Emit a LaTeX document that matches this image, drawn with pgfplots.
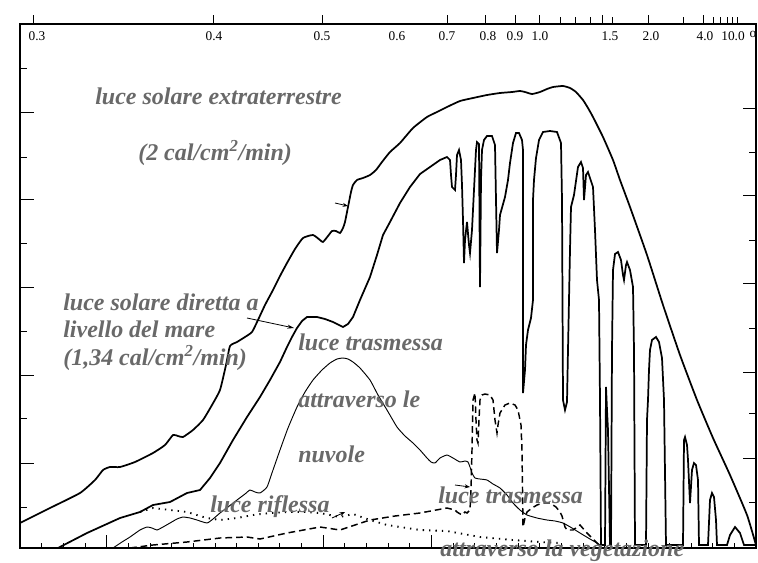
\documentclass[border=0pt]{standalone}
\usepackage{fontspec}
\setmainfont{Liberation Serif}
\usepackage{pgfplots}
\pgfplotsset{compat=1.18}
\usetikzlibrary{arrows.meta}
\definecolor{anno}{RGB}{105,105,105}

\pgfplotstableread{
x y
20 523
50 508
80 493
95 480
103 470
110 467
120 467
135 462
153 453
165 445
173 435
178 436
183 437
193 430
203 420
212 405
220 390
226 365
230 346
237 342
245 337
252 332
258 320
265 305
273 290
280 276
287 263
295 249
303 238
313 235
320 240
323 242
328 236
332 231
336 231
340 233
343 228
345 222
348 207
351 192
353 185
357 180
363 178
370 175
376 170
382 162
390 152
400 143
413 128
427 117
437 112
447 107
460 101
473 98
487 95
500 93
512 92
520 91
525 92
532 94
540 92
547 89
553 87
563 86
570 88
576 92
583 100
588 108
593 117
603 137
613 160
620 180
630 207
647 255
663 305
680 355
697 400
713 438
730 475
747 515
756 545
}\extra

\pgfplotstableread{
x y
58 548
87 533
120 518
140 512
153 505
170 502
187 493
200 490
210 478
220 463
233 440
247 417
260 397
270 380
280 362
287 347
292 337
297 328
302 321
307 317
317 317
325 319
333 322
343 327
348 324
353 317
360 300
370 277
377 255
383 235
390 222
400 203
410 187
420 174
430 167
440 160
447 157
450 160
451 175
452 187
455 190
456 175
457 155
459 150
461 160
462 185
463 220
464 263
465 240
467 222
469 245
470 253
472 230
474 190
476 150
477 142
479 144
480 287
481 180
482 150
484 140
487 136
492 136
495 145
496 200
497 253
499 230
500 215
505 197
508 180
510 163
513 143
516 133
519 133
522 140
523 150
523 393
525 370
526 345
528 330
531 318
533 300
533 200
534 180
536 158
539 140
543 132
550 131
557 132
561 143
562 200
563 400
565 410
567 402
568 350
570 250
571 207
574 195
578 167
581 162
583 168
584 200
586 175
588 172
593 187
595 230
597 280
599 300
600 400
601 545
605 545
606 387
607 410
608 430
610 545
611 545
612 350
613 270
615 254
618 252
621 260
623 275
624 280
626 265
627 262
630 270
633 287
634 350
635 545
646 545
647 420
648 400
649 370
650 350
652 340
656 337
659 342
662 358
664 400
666 545
683 545
684 440
685 437
687 445
688 460
690 503
692 470
694 463
696 465
698 480
699 545
708 545
710 500
712 493
714 497
716 520
717 545
727 545
730 535
735 527
740 533
744 545
756 545
}\direct

\pgfplotstableread{
x y
113 548
122 542
130 537
140 530
147 527
152 528
157 530
163 527
170 523
177 519
183 517
190 518
197 520
207 523
213 519
220 513
228 507
237 500
245 494
250 490
255 492
260 493
267 487
273 470
280 450
288 428
297 407
305 392
313 380
322 370
330 363
337 359
343 358
348 359
353 362
360 368
370 380
378 395
387 410
397 427
405 436
413 443
420 450
427 458
431 462
435 463
440 458
447 455
453 458
460 462
465 461
468 462
470 467
472 473
475 478
480 479
487 480
493 484
500 488
507 495
513 503
520 510
527 515
537 518
547 520
555 521
563 523
572 528
580 533
590 539
597 543
600 545
}\clouds

\pgfplotstableread{
x y
130 548
153 545
187 542
220 538
247 537
260 539
287 533
320 527
340 530
370 520
395 516
420 513
447 508
455 510
457 512
462 515
465 512
467 513
470 510
471 490
472 450
473 400
475 393
476 420
477 440
478 443
479 420
480 400
482 395
485 394
490 395
493 400
495 420
497 433
498 425
500 413
505 405
510 403
515 405
518 410
521 425
522 450
523 527
525 518
527 512
532 508
537 505
543 503
550 503
556 507
560 512
562 516
565 527
567 530
573 530
580 525
587 533
592 538
597 543
600 546
}\veg

\pgfplotstableread{
x y
140 512
153 508
170 510
187 512
200 516
207 518
220 520
237 518
253 515
270 513
287 512
305 512
320 513
340 517
353 514
370 520
387 525
420 530
447 531
480 537
513 540
540 542
560 543
}\refl

\begin{document}
\begin{tikzpicture}
\begin{axis}[name=ax, width=552pt, height=393pt, scale only axis,
  xmin=20, xmax=756, ymin=24, ymax=548, y dir=reverse,
  xtick=\empty, ytick=\empty, clip=false,
  axis line style={line width=1pt}]
\addplot[black, line width=1.3pt, smooth, tension=0.3] table[x=x,y=y] {\extra};
\addplot[black, line width=1.3pt] table[x=x,y=y] {\direct};
\addplot[black, line width=0.7pt, smooth, tension=0.3] table[x=x,y=y] {\clouds};
\addplot[black, line width=1.1pt, dash pattern=on 5pt off 3pt] table[x=x,y=y] {\veg};
\addplot[black, line width=1.4pt, dash pattern=on 1pt off 3.8pt] table[x=x,y=y] {\refl};

% top ticks (outside)
\pgfplotsinvokeforeach{33,213,322,447,485,515,539,602,648,703}{
  \draw[line width=0.7pt] (axis cs:#1,24) -- ++(0pt,7pt);}
\pgfplotsinvokeforeach{560,575,590,612,683,713,720,727,732,737}{
  \draw[line width=0.6pt] (axis cs:#1,24) -- ++(0pt,5pt);}
% bottom ticks (inside)
\pgfplotsinvokeforeach{41.65,63.3,85,128.3,150,171.6,193.2,214.9,236.5,258.2,279.8,301.5,344.8,366.4,388,409.7,453,474.7,496.3,518,539.6,561.3,582.9,604.6,626.2,647.9,669.5,691.2,712.8,734.5}{
  \draw[line width=0.6pt] (axis cs:#1,548) -- ++(0pt,3.5pt);}
\pgfplotsinvokeforeach{106.6,323.1,431.4}{
  \draw[line width=0.6pt] (axis cs:#1,548) -- ++(0pt,10pt);}
% left ticks
\pgfplotsinvokeforeach{112,199,287,375,463}{
  \draw[line width=0.7pt] (axis cs:20,#1) -- ++(10.5pt,0pt);}
\pgfplotsinvokeforeach{68,157,243,331,418,507}{
  \draw[line width=0.7pt] (axis cs:20,#1) -- ++(5pt,0pt);}
% right ticks
\pgfplotsinvokeforeach{108,195,283,372,458}{
  \draw[line width=0.7pt] (axis cs:756,#1) -- ++(-10pt,0pt);}
\pgfplotsinvokeforeach{152,240,328,413,502}{
  \draw[line width=0.7pt] (axis cs:756,#1) -- ++(-5pt,0pt);}

% tick labels
\begin{scope}[every node/.style={font=\fontsize{10}{12}\selectfont, inner sep=0pt}]
\node at (axis cs:37,36) {0.3};
\node at (axis cs:214,36) {0.4};
\node at (axis cs:322,36) {0.5};
\node at (axis cs:397,36) {0.6};
\node at (axis cs:447,36) {0.7};
\node at (axis cs:488,36) {0.8};
\node at (axis cs:515,36) {0.9};
\node at (axis cs:540,36) {1.0};
\node at (axis cs:610,36) {1.5};
\node at (axis cs:651,36) {2.0};
\node at (axis cs:705,36) {4.0};
\node at (axis cs:733,36) {10.0};
\node at (axis cs:753,34) {o};
\end{scope}

% arrows
\draw[-{Stealth[length=5pt,width=3pt]}, line width=0.6pt] (axis cs:247,318) -- (axis cs:294,328);
\draw[-{Stealth[length=4pt,width=3pt]}, line width=0.6pt] (axis cs:335,203) -- (axis cs:348,206);
\draw[-{Stealth[length=4pt,width=3pt]}, line width=0.6pt] (axis cs:332,518) -- (axis cs:345,512);
\draw[-{Stealth[length=4pt,width=3pt]}, line width=0.6pt] (axis cs:455,485) -- (axis cs:470,487);

% annotations
\begin{scope}[every node/.style={font=\fontsize{18}{20}\selectfont\bfseries\itshape, text=anno, anchor=base west, inner sep=0pt}]
\node at (axis cs:95,104) {luce solare extraterrestre};
\node at (axis cs:138,160) {(2 cal/cm\textsuperscript{2}/min)};
\node at (axis cs:63,310) {luce solare diretta a};
\node at (axis cs:63,337) {livello del mare};
\node at (axis cs:63,365) {(1,34 cal/cm\textsuperscript{2}/min)};
\node at (axis cs:298,350) {luce trasmessa};
\node at (axis cs:298,407) {attraverso le};
\node at (axis cs:298,462) {nuvole};
\node at (axis cs:210,512) {luce riflessa};
\node at (axis cs:438,503) {luce trasmessa};
\node at (axis cs:440,556) {attraverso la vegetazione};
\end{scope}
\end{axis}
\pgfresetboundingbox
\path[use as bounding box] ([xshift=-15pt,yshift=-10.5pt]ax.south west) rectangle ([xshift=1.5pt,yshift=18pt]ax.north east);
\end{tikzpicture}
\end{document}
